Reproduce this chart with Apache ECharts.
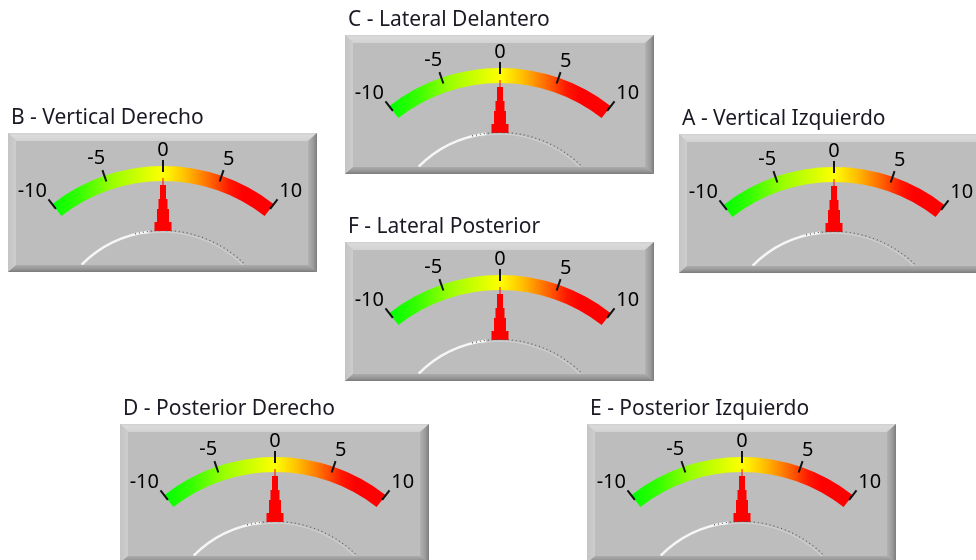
<!DOCTYPE html>
<html>
<head>
<meta charset="utf-8">
<script src="https://cdn.jsdelivr.net/npm/echarts@6/dist/echarts.min.js"></script>
<style>
html,body{margin:0;padding:0;background:#ffffff;}
#chart{width:976px;height:560px;}
</style>
</head>
<body>
<div id="chart"></div>
<script>
// ---- data ----
const gaugeNames = ['C - Lateral Delantero', 'B - Vertical Derecho', 'A - Vertical Izquierdo', 'F - Lateral Posterior', 'D - Posterior Derecho', 'E - Posterior Izquierdo'];
const gaugeValues = [0, 0, 0, 0, 0, 0];
const axisMin = -10;
const axisMax = 10;
const tickLabels = [-10, -5, 0, 5, 10];

// ---- layout (frame top-left corners) ----
const panelPos = [[345, 35], [8, 133], [679, 134], [345, 242], [120, 424], [587, 424]];
const FW = 309, FH = 139;
const CX_OFF = 155, CY_OFF = 213;
const R = 180, BAND = 15;

const chart = echarts.init(document.getElementById('chart'), null, {renderer: 'canvas'});

const arcGradient = {
  type: 'linear', x: 0, y: 0, x2: 1, y2: 0,
  colorStops: [
    {offset: 0, color: '#00ff00'},
    {offset: 0.12, color: '#33ff00'},
    {offset: 0.27, color: '#99ff00'},
    {offset: 0.5, color: '#ffff00'},
    {offset: 0.6, color: '#ffc000'},
    {offset: 0.72, color: '#ff6000'},
    {offset: 0.8, color: '#ff1800'},
    {offset: 0.86, color: '#ff0000'},
    {offset: 1, color: '#ff0000'}
  ]
};

const needlePath = 'path://M8,0 L9,0 L9,7 L11.5,7 L11.5,21 L13,21 L13,31 L14.5,31 L14.5,44 L17,44 L17,53 L0,53 L0,44 L2.5,44 L2.5,31 L4,31 L4,21 L5.5,21 L5.5,7 L8,7 Z';

// label style keys chosen by position along the scale (layout only)
function labelFormatter(v) {
  const tv = tickLabels.find(t => Math.abs(t - v) < 1e-6);
  const idx = tickLabels.indexOf(tv);
  const keys = ['ll', 'l', 'c', 'r', 'rr'];
  return '{' + keys[idx] + '|' + tv + '}';
}
const labelRich = {
  ll: {padding: [0, 20, 0, 0]},
  l: {padding: [0, 6, 4, 0]},
  c: {padding: [0, 0, 0, 0]},
  r: {padding: [0, 0, 2, 4]},
  rr: {padding: [0, 0, 0, 14]}
};

const series = [];
const graphics = [];

gaugeNames.forEach((name, i) => {
  const [x, y] = panelPos[i];
  const cx = x + CX_OFF, cy = y + CY_OFF;
  const t = 8, l = 8, r = 9, b = 7;
  // face
  graphics.push({type: 'rect', z: 0, shape: {x: x, y: y, width: FW, height: FH}, style: {fill: '#bdbdbd'}});
  // bevels
  graphics.push({type: 'polygon', z: 50, shape: {points: [[x, y], [x + FW, y], [x + FW - r, y + t], [x + l, y + t]]},
    style: {fill: {type: 'linear', x: 0, y: 0, x2: 0, y2: 1, colorStops: [{offset: 0, color: '#cfcfcf'}, {offset: 0.3, color: '#dadada'}, {offset: 1, color: '#d2d2d2'}]}}});
  graphics.push({type: 'polygon', z: 50, shape: {points: [[x, y], [x + l, y + t], [x + l, y + FH - b], [x, y + FH]]},
    style: {fill: {type: 'linear', x: 0, y: 0, x2: 1, y2: 0, colorStops: [{offset: 0, color: '#c4c4c4'}, {offset: 1, color: '#cdcdcd'}]}}});
  graphics.push({type: 'polygon', z: 50, shape: {points: [[x + FW, y], [x + FW, y + FH], [x + FW - r, y + FH - b], [x + FW - r, y + t]]},
    style: {fill: {type: 'linear', x: 0, y: 0, x2: 1, y2: 0, colorStops: [{offset: 0, color: '#b2b2b2'}, {offset: 0.6, color: '#9a9a9a'}, {offset: 1, color: '#7c7c7c'}]}}});
  graphics.push({type: 'polygon', z: 50, shape: {points: [[x, y + FH], [x + FW, y + FH], [x + FW - r, y + FH - b], [x + l, y + FH - b]]},
    style: {fill: {type: 'linear', x: 0, y: 0, x2: 0, y2: 1, colorStops: [{offset: 0, color: '#acacac'}, {offset: 0.6, color: '#959595'}, {offset: 1, color: '#7a7a7a'}]}}});
  // lower cover arc (decoration)
  const cr = 115;
  graphics.push({type: 'arc', z: 20, shape: {cx: cx, cy: cy, r: cr, startAngle: -Math.PI / 180 * 135, endAngle: -Math.PI / 180 * 97, clockwise: true},
    style: {stroke: '#f6f6f6', lineWidth: 2.5, fill: null}});
  graphics.push({type: 'arc', z: 20, shape: {cx: cx, cy: cy, r: cr + 0.5, startAngle: -Math.PI / 180 * 104, endAngle: -Math.PI / 180 * 45, clockwise: true},
    style: {stroke: '#5a5a5a', lineWidth: 1.2, lineDash: [1, 3], fill: null}});
  graphics.push({type: 'arc', z: 19, shape: {cx: cx, cy: cy, r: cr - 1.2, startAngle: -Math.PI / 180 * 100, endAngle: -Math.PI / 180 * 45, clockwise: true},
    style: {stroke: '#d0d0d0', lineWidth: 1.2, fill: null}});
  // title
  graphics.push({type: 'text', z: 60, x: x + 3, y: y - 15,
    style: {text: name, fontSize: 21, fontFamily: 'Noto Sans', fill: '#1a1a24', verticalAlign: 'middle', align: 'left'}});

  series.push({
    type: 'gauge',
    z: 5,
    center: [cx, cy],
    radius: R,
    startAngle: 128,
    endAngle: 52,
    min: axisMin,
    max: axisMax,
    splitNumber: tickLabels.length - 1,
    axisLine: {lineStyle: {width: BAND, color: [[1, arcGradient]]}},
    splitLine: {show: true, length: 12, distance: -21, lineStyle: {color: '#111111', width: 2}},
    axisTick: {show: false},
    axisLabel: {
      distance: -7, rotate: 0.01, color: '#1c1c2c', fontSize: 20, fontFamily: 'Noto Sans',
      formatter: labelFormatter,
      rich: labelRich
    },
    pointer: {icon: needlePath, length: 53, width: 17, offsetCenter: [0, -115], keepAspect: false, itemStyle: {color: '#ff0000'}},
    anchor: {show: false},
    title: {show: false},
    detail: {show: false},
    animation: false,
    data: [{value: gaugeValues[i], name: name}]
  });
});

chart.setOption({
  backgroundColor: '#ffffff',
  animation: false,
  graphic: {elements: graphics},
  series: series
});
</script>
</body>
</html>
